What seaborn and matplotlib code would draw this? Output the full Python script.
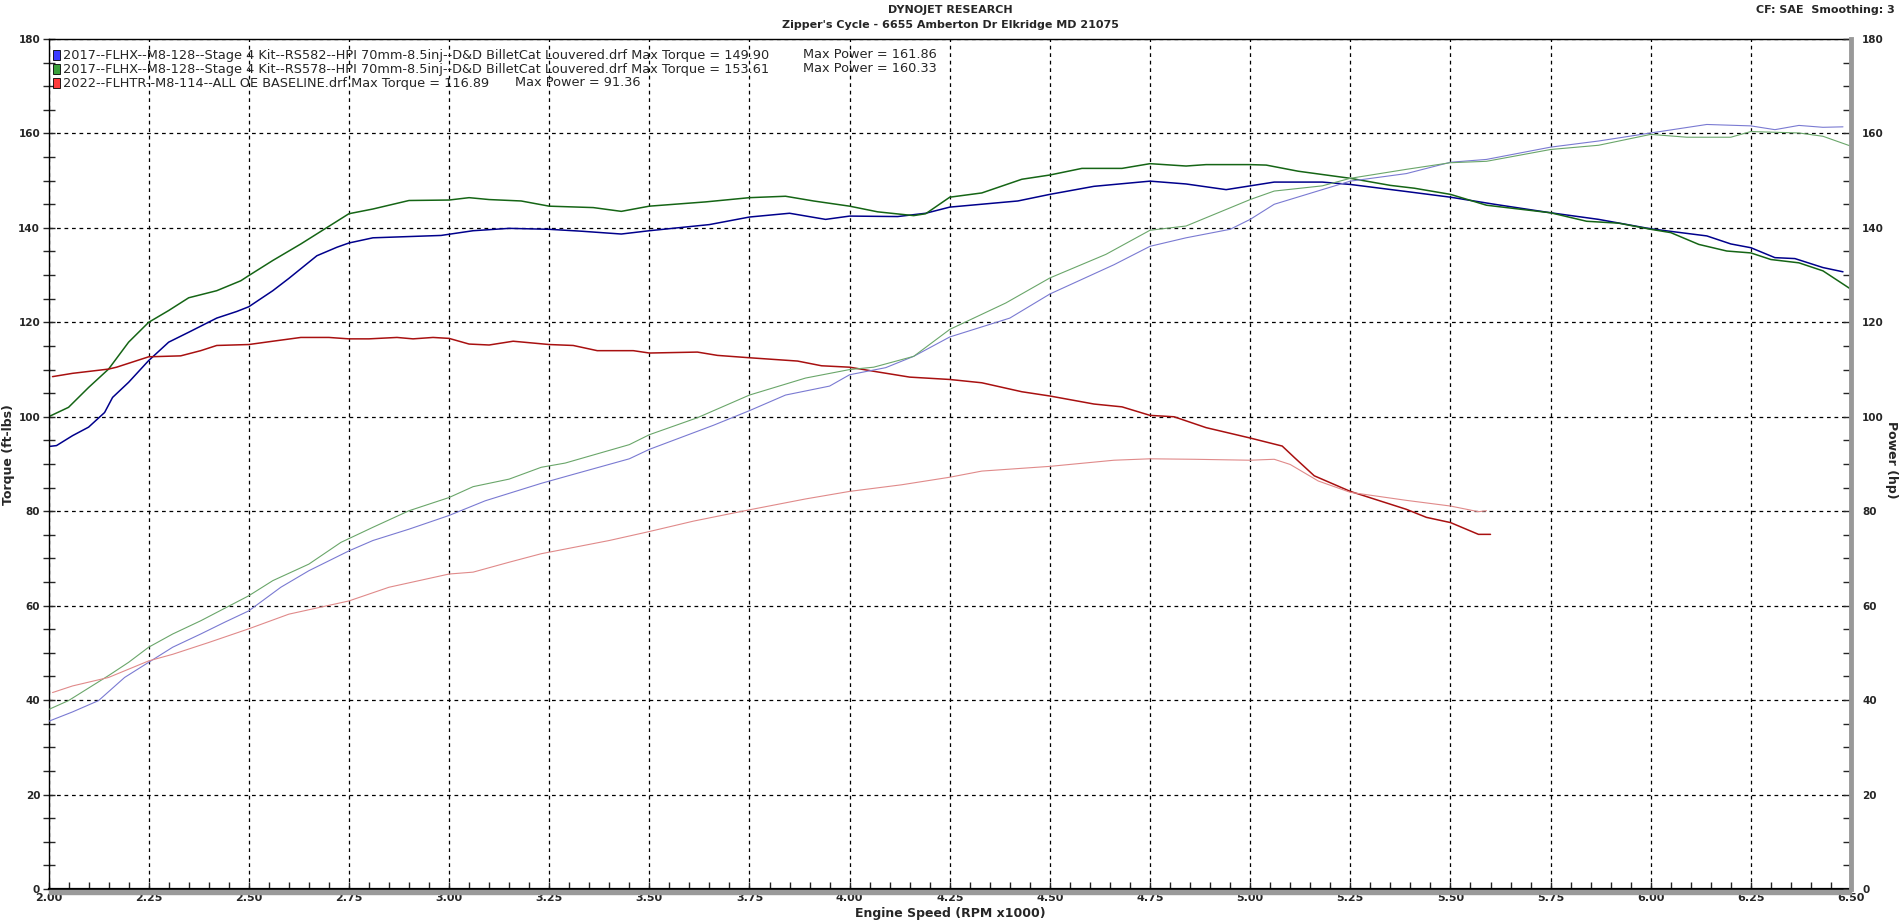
import numpy as np
import matplotlib
matplotlib.use('Agg')
import matplotlib.pyplot as plt
import seaborn as sns
from matplotlib.ticker import MultipleLocator, FormatStrFormatter
from matplotlib.patches import Rectangle

# Données (RPM x1000)
rpm_tq_582 = [2.00, 2.02, 2.06, 2.10, 2.14, 2.16, 2.20, 2.25, 2.30, 2.35, 2.42, 2.47, 2.50, 2.56, 2.60,
              2.67, 2.72, 2.75, 2.81, 2.98, 3.06, 3.15, 3.25, 3.33, 3.43, 3.50, 3.65, 3.75, 3.85, 3.94,
              4.00, 4.12, 4.19, 4.25, 4.42, 4.50, 4.61, 4.75, 4.84, 4.94, 5.00, 5.06, 5.18, 5.25, 5.39,
              5.50, 5.61, 5.75, 5.87, 6.00, 6.14, 6.20, 6.25, 6.31, 6.36, 6.43, 6.48]
tq_582 = [93.7, 93.9, 96.0, 97.8, 100.9, 104.1, 107.3, 111.9, 115.8, 117.9, 120.9, 122.3, 123.3, 126.7, 129.3,
          134.1, 135.9, 136.8, 137.9, 138.4, 139.4, 139.9, 139.7, 139.3, 138.7, 139.4, 140.7, 142.3, 143.1, 141.8,
          142.5, 142.4, 143.1, 144.4, 145.7, 147.1, 148.8, 149.9, 149.3, 148.1, 148.9, 149.7, 149.7, 149.2, 147.7,
          146.5, 145.0, 143.2, 141.8, 139.8, 138.3, 136.6, 135.8, 133.7, 133.5, 131.6, 130.7]

rpm_tq_578 = [2.00, 2.05, 2.10, 2.15, 2.20, 2.25, 2.30, 2.35, 2.42, 2.48, 2.50, 2.56, 2.63, 2.69, 2.75,
              2.81, 2.90, 3.00, 3.05, 3.10, 3.18, 3.25, 3.36, 3.43, 3.50, 3.64, 3.75, 3.84, 3.91, 4.00,
              4.07, 4.16, 4.19, 4.25, 4.33, 4.43, 4.50, 4.58, 4.68, 4.75, 4.84, 4.89, 5.00, 5.04, 5.12,
              5.25, 5.35, 5.41, 5.50, 5.59, 5.75, 5.84, 5.92, 6.00, 6.05, 6.12, 6.19, 6.25, 6.30, 6.37,
              6.43, 6.50]
tq_578 = [100.0, 102.0, 106.2, 110.1, 115.8, 120.0, 122.5, 125.2, 126.7, 128.8, 129.9, 133.1, 136.6, 139.8, 143.0,
          144.0, 145.8, 145.9, 146.4, 146.0, 145.7, 144.6, 144.3, 143.5, 144.6, 145.5, 146.4, 146.7, 145.7, 144.6,
          143.4, 142.6, 143.0, 146.5, 147.4, 150.3, 151.2, 152.6, 152.6, 153.6, 153.1, 153.4, 153.4, 153.3, 152.0,
          150.5, 149.0, 148.4, 147.1, 144.8, 143.2, 141.4, 141.0, 139.7, 139.0, 136.5, 135.1, 134.7, 133.3, 132.6,
          130.9, 127.0]

rpm_tq_oe = [2.01, 2.06, 2.15, 2.17, 2.25, 2.33, 2.38, 2.42, 2.50, 2.56, 2.63, 2.70, 2.75, 2.80, 2.87,
             2.91, 2.96, 3.00, 3.05, 3.10, 3.16, 3.25, 3.31, 3.37, 3.46, 3.50, 3.62, 3.67, 3.75, 3.87,
             3.93, 4.00, 4.07, 4.15, 4.25, 4.33, 4.43, 4.50, 4.61, 4.68, 4.75, 4.81, 4.89, 5.00, 5.08,
             5.11, 5.16, 5.25, 5.39, 5.44, 5.50, 5.57, 5.60]
tq_oe = [108.5, 109.2, 110.1, 110.5, 112.7, 112.9, 114.0, 115.1, 115.3, 116.0, 116.8, 116.8, 116.5, 116.5, 116.8,
         116.5, 116.8, 116.6, 115.4, 115.2, 116.0, 115.3, 115.1, 114.0, 114.0, 113.5, 113.7, 113.0, 112.5, 111.8,
         110.8, 110.5, 109.5, 108.4, 107.9, 107.2, 105.3, 104.4, 102.7, 102.1, 100.3, 100.0, 97.7, 95.5, 93.8,
         91.4, 87.5, 84.2, 80.4, 78.7, 77.6, 75.1, 75.1]

rpm_hp_582 = [2.00, 2.06, 2.125, 2.19, 2.25, 2.31, 2.38, 2.44, 2.50, 2.58, 2.65, 2.75, 2.81, 2.90, 3.00,
              3.09, 3.23, 3.31, 3.45, 3.50, 3.66, 3.75, 3.84, 3.95, 4.00, 4.09, 4.16, 4.25, 4.40, 4.50,
              4.66, 4.75, 4.84, 4.95, 5.00, 5.06, 5.18, 5.25, 5.39, 5.50, 5.59, 5.75, 5.87, 6.00, 6.14,
              6.25, 6.31, 6.37, 6.43, 6.48]
hp_582 = [35.5, 37.5, 39.9, 44.8, 48.0, 51.2, 54.0, 56.5, 58.9, 63.9, 67.4, 71.6, 73.8, 76.2, 79.1,
          82.2, 85.9, 87.8, 91.1, 93.1, 98.2, 101.3, 104.6, 106.5, 108.9, 110.4, 112.8, 116.9, 120.9, 126.0,
          132.2, 136.1, 137.9, 139.7, 141.8, 145.0, 148.1, 149.9, 151.5, 153.9, 154.5, 157.1, 158.4, 160.1, 161.9,
          161.6, 160.8, 161.7, 161.3, 161.4]

rpm_hp_578 = [2.00, 2.05, 2.15, 2.20, 2.25, 2.31, 2.38, 2.50, 2.56, 2.65, 2.73, 2.81, 2.90, 3.00, 3.06,
              3.15, 3.23, 3.29, 3.45, 3.50, 3.62, 3.75, 3.89, 4.00, 4.06, 4.16, 4.25, 4.39, 4.50, 4.64,
              4.75, 4.84, 5.00, 5.06, 5.18, 5.25, 5.39, 5.50, 5.59, 5.75, 5.87, 6.00, 6.09, 6.20, 6.25,
              6.37, 6.43, 6.50]
hp_578 = [38.0, 39.9, 45.2, 48.0, 51.2, 54.0, 56.8, 62.1, 65.3, 68.8, 73.4, 76.6, 80.1, 82.9, 85.2,
          86.8, 89.3, 90.2, 94.1, 96.2, 99.8, 104.6, 108.2, 110.0, 110.5, 112.8, 118.5, 124.1, 129.4, 134.4,
          139.5, 140.4, 146.0, 147.8, 148.9, 150.5, 152.4, 153.8, 154.1, 156.6, 157.5, 159.8, 159.2, 159.2, 160.4,
          160.1, 159.4, 157.3]

rpm_hp_oe = [2.01, 2.06, 2.15, 2.25, 2.31, 2.40, 2.50, 2.60, 2.75, 2.85, 3.00, 3.06, 3.15, 3.23, 3.40,
             3.50, 3.61, 3.75, 3.89, 4.00, 4.13, 4.25, 4.33, 4.50, 4.66, 4.75, 4.86, 5.00, 5.06, 5.10,
             5.17, 5.25, 5.39, 5.50, 5.57, 5.59]
hp_oe = [41.6, 43.0, 44.8, 48.3, 49.7, 52.2, 55.1, 58.2, 61.0, 63.9, 66.7, 67.1, 69.2, 71.0, 73.8,
         75.7, 77.9, 80.3, 82.6, 84.2, 85.6, 87.2, 88.5, 89.5, 90.8, 91.1, 91.0, 90.8, 91.0, 89.9,
         86.4, 84.0, 82.3, 81.1, 79.9, 80.1]

run_names = ['2017--FLHX--M8-128--Stage 4 Kit--RS582--HPI 70mm-8.5inj--D&D BilletCat Louvered.drf Max Torque = 149.90',
             '2017--FLHX--M8-128--Stage 4 Kit--RS578--HPI 70mm-8.5inj--D&D BilletCat Louvered.drf Max Torque = 153.61',
             '2022--FLHTR--M8-114--ALL OE BASELINE.drf Max Torque = 116.89']
max_power = ['Max Power = 161.86', 'Max Power = 160.33', 'Max Power = 91.36']

sns.set_style('white')
plt.rcParams['font.family'] = ['DejaVu Sans']

W, H = 1901, 922
fig = plt.figure(figsize=(W / 100, H / 100), dpi=100)
x0, x1, y0, y1 = 48.5, 1851, 39, 889
ax = fig.add_axes([x0 / W, 1 - y1 / H, (x1 - x0) / W, (y1 - y0) / H])
ax2 = ax.twinx()

# Couple (traits foncés)
sns.lineplot(x=rpm_tq_582, y=tq_582, ax=ax, color='#00008c', linewidth=1.1)
sns.lineplot(x=rpm_tq_578, y=tq_578, ax=ax, color='#156515', linewidth=1.1)
sns.lineplot(x=rpm_tq_oe, y=tq_oe, ax=ax, color='#a81010', linewidth=1.1)
# Puissance (traits clairs)
sns.lineplot(x=rpm_hp_582, y=hp_582, ax=ax2, color='#7a7ad2', linewidth=0.8)
sns.lineplot(x=rpm_hp_578, y=hp_578, ax=ax2, color='#6aa66a', linewidth=0.8)
sns.lineplot(x=rpm_hp_oe, y=hp_oe, ax=ax2, color='#e08a8a', linewidth=0.8)

for a in (ax, ax2):
    a.set_xlim(2.0, 6.5)
    a.set_ylim(0, 180)
    a.yaxis.set_major_locator(MultipleLocator(20))
    a.yaxis.set_minor_locator(MultipleLocator(5))
    a.set_ylabel('')
ax.xaxis.set_major_locator(MultipleLocator(0.25))
ax.xaxis.set_minor_locator(MultipleLocator(0.05))
ax.xaxis.set_major_formatter(FormatStrFormatter('%.2f'))

ax.grid(True, which='major', color='black', linestyle=(0, (3, 3)), linewidth=0.9)
ax.set_axisbelow(True)

lab = dict(fontsize=8, fontweight='bold')
ax.tick_params(axis='y', which='both', direction='inout', length=8, width=1, left=True, right=False, pad=2)
ax.tick_params(axis='x', which='both', direction='in', length=5, width=1, bottom=True, pad=3)
ax2.tick_params(axis='y', which='both', direction='in', length=6, width=1, right=True, pad=8)
for t in ax.get_xticklabels():
    t.set_fontsize(8)
    t.set_fontweight('bold')
for t in ax.get_yticklabels() + ax2.get_yticklabels():
    t.set_fontsize(7.5)
    t.set_fontweight('bold')

for s in ('left', 'top'):
    ax.spines[s].set_color('black')
    ax.spines[s].set_linewidth(1)
ax.spines['bottom'].set_linewidth(1.6)
ax.spines['bottom'].set_color('black')
ax2.spines['right'].set_color('#999999')
ax2.spines['right'].set_linewidth(3.5)
for s in ('left', 'top', 'bottom'):
    ax2.spines[s].set_visible(False)
ax.spines['right'].set_visible(False)

# Ombre grise sous l'axe horizontal
fig.patches.append(Rectangle((x0 / W, 1 - (y1 + 5) / H), (x1 - x0) / W, 4 / H,
                             transform=fig.transFigure, color='#9a9a9a', zorder=0))

# Titres
fig.text(950 / W, 1 - 10 / H, 'DYNOJET RESEARCH', ha='center', va='center', **lab)
fig.text(950 / W, 1 - 25 / H, "Zipper's Cycle - 6655 Amberton Dr Elkridge MD 21075", ha='center', va='center', **lab)
fig.text(1895 / W, 1 - 10 / H, 'CF: SAE  Smoothing: 3', ha='right', va='center', **lab)
fig.text(9 / W, 1 - 455 / H, 'Torque (ft-lbs)', rotation=90, ha='center', va='center', fontsize=9, fontweight='bold')
fig.text(1891 / W, 1 - 460 / H, 'Power (hp)', rotation=270, ha='center', va='center', fontsize=9, fontweight='bold')
fig.text(950 / W, 1 - 913 / H, 'Engine Speed (RPM x1000)', ha='center', va='center', fontsize=9, fontweight='bold')

# Légende des essais
patch_colors = ['#3a3aff', '#3aa03a', '#ff3a3a']
rows_y = [55, 69, 83]
power_x = [803, 803, 515]
for name, mp, c, yy, px in zip(run_names, max_power, patch_colors, rows_y, power_x):
    fig.patches.append(Rectangle((53 / W, 1 - (yy + 5) / H), 7 / W, 10 / H, transform=fig.transFigure,
                                 facecolor=c, edgecolor='black', linewidth=0.6, zorder=5))
    fig.text(63 / W, 1 - yy / H, name, ha='left', va='center', fontsize=9.3)
    fig.text(px / W, 1 - yy / H, mp, ha='left', va='center', fontsize=9.3)

plt.savefig('out.png', dpi=100)
